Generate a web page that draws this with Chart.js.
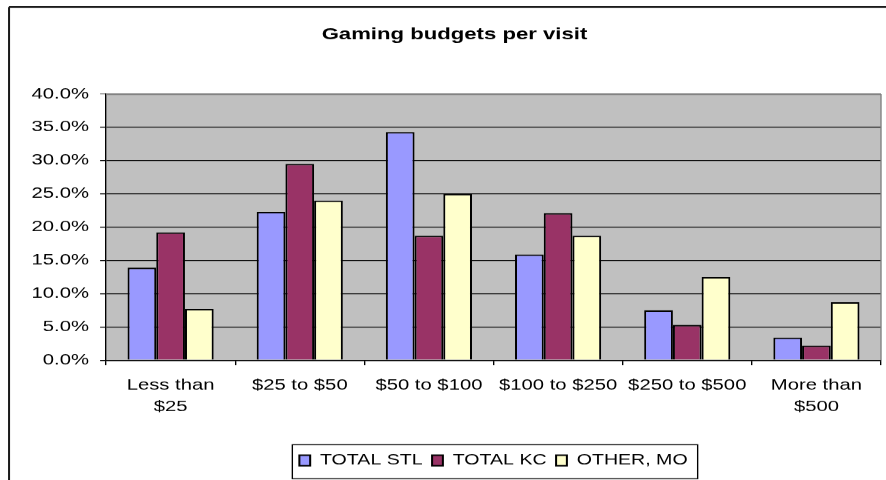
<!DOCTYPE html>
<html>
<head>
<meta charset="utf-8">
<script src="https://cdn.jsdelivr.net/npm/chart.js@4"></script>
<style>
  html, body { margin: 0; padding: 0; background: #fff; overflow: hidden; }
  #wrap { width: 656px; height: 480px; transform: scaleX(1.3506); transform-origin: 0 0; }
</style>
</head>
<body>
<div id="wrap"><canvas id="budgetChart" width="656" height="480"></canvas></div>
<script>
// the source picture is stretched sideways, so the chart is drawn narrow and widened with CSS
const stretch = 886 / 656;

const categories = [['Less than', '$25'], '$25 to $50', '$50 to $100', '$100 to $250', '$250 to $500', ['More than', '$500']];
const seriesNames = ['TOTAL STL', 'TOTAL KC', 'OTHER, MO'];
const totalStl = [13.9, 22.3, 34.3, 15.9, 7.5, 3.4];
const totalKc = [19.2, 29.5, 18.7, 22.1, 5.3, 2.2];
const otherMo = [7.7, 24.0, 25.0, 18.7, 12.5, 8.7];
const yTicks = [0, 5, 10, 15, 20, 25, 30, 35, 40];

Chart.defaults.font.family = "'Liberation Sans', Arial, sans-serif";
Chart.defaults.color = '#000';

const excelLook = {
    id: 'excelLook',
    beforeDraw(chart) {
        const {ctx, chartArea: a} = chart;
        ctx.save();
        ctx.fillStyle = '#c0c0c0';
        ctx.fillRect(a.left, a.top, a.right - a.left, a.bottom - a.top);
        // outer frame, only top and left are in view
        ctx.strokeStyle = '#1a1a1a';
        ctx.lineWidth = 2;
        ctx.beginPath();
        ctx.moveTo(6.7, 7);
        ctx.lineTo(chart.width, 7);
        ctx.stroke();
        ctx.lineWidth = 1.5;
        ctx.beginPath();
        ctx.moveTo(6.7, 7);
        ctx.lineTo(6.7, chart.height);
        ctx.stroke();
        ctx.restore();
    },
    afterDraw(chart) {
        const {ctx, chartArea: a} = chart;
        ctx.save();
        ctx.strokeStyle = '#808080';
        ctx.lineWidth = 1;
        ctx.beginPath();
        ctx.moveTo(a.left, a.top + 0.5);
        ctx.lineTo(a.right, a.top + 0.5);
        ctx.lineTo(a.right, a.bottom);
        ctx.stroke();
        // box round the legend
        const boxes = chart.legend.legendHitBoxes;
        if (boxes && boxes.length) {
            const last = boxes[boxes.length - 1];
            const x0 = boxes[0].left - 5.2;
            const x1 = last.left + last.width + 7.4;
            ctx.strokeStyle = '#000';
            ctx.strokeRect(x0, 444.5, x1 - x0, 34);
        }
        ctx.restore();
    }
};

const ctx = document.getElementById('budgetChart').getContext('2d');
new Chart(ctx, {
    type: 'bar',
    data: {
        labels: categories,
        datasets: [
            { label: seriesNames[0], data: totalStl, backgroundColor: '#9999ff' },
            { label: seriesNames[1], data: totalKc, backgroundColor: '#993366' },
            { label: seriesNames[2], data: otherMo, backgroundColor: '#ffffcc' }
        ]
    },
    options: {
        responsive: false,
        animation: false,
        devicePixelRatio: stretch,
        layout: { padding: { left: 20.7, right: 3.7, top: 0, bottom: 2.5 } },
        datasets: {
            bar: {
                categoryPercentage: 0.667,
                barPercentage: 1.0,
                borderColor: '#000',
                borderWidth: 1.5
            }
        },
        plugins: {
            title: {
                display: true,
                text: 'Gaming budgets per visit',
                color: '#000',
                font: { size: 16.4, weight: 'bold' },
                padding: { top: 25.2, bottom: 49.1 }
            },
            legend: {
                display: true,
                position: 'bottom',
                fullSize: false,
                labels: {
                    boxWidth: 8,
                    boxHeight: 10.5,
                    padding: 7,
                    color: '#000',
                    font: { size: 14.5 }
                }
            },
            tooltip: { enabled: false }
        },
        scales: {
            x: {
                afterFit: s => { s.height = 86; },
                grid: {
                    display: true,
                    drawOnChartArea: false,
                    drawTicks: true,
                    tickLength: 5,
                    color: '#000',
                    offset: true
                },
                border: { color: '#000', width: 1 },
                ticks: {
                    autoSkip: false,
                    maxRotation: 0,
                    padding: 9,
                    color: '#000',
                    font: { size: 15, lineHeight: 1.467 }
                }
            },
            y: {
                min: 0,
                max: 40,
                afterFit: s => { s.width = 57.8; },
                afterBuildTicks: s => { s.ticks = yTicks.map(v => ({ value: v })); },
                grid: {
                    color: c => (c.tick && c.tick.value === 40 ? '#808080' : '#000'),
                    lineWidth: 1,
                    tickLength: 4.4
                },
                border: { color: '#000', width: 1 },
                ticks: {
                    padding: 8.2,
                    color: '#000',
                    font: { size: 15 },
                    callback: v => v.toFixed(1) + '%'
                }
            }
        }
    },
    plugins: [excelLook]
});
</script>
</body>
</html>
